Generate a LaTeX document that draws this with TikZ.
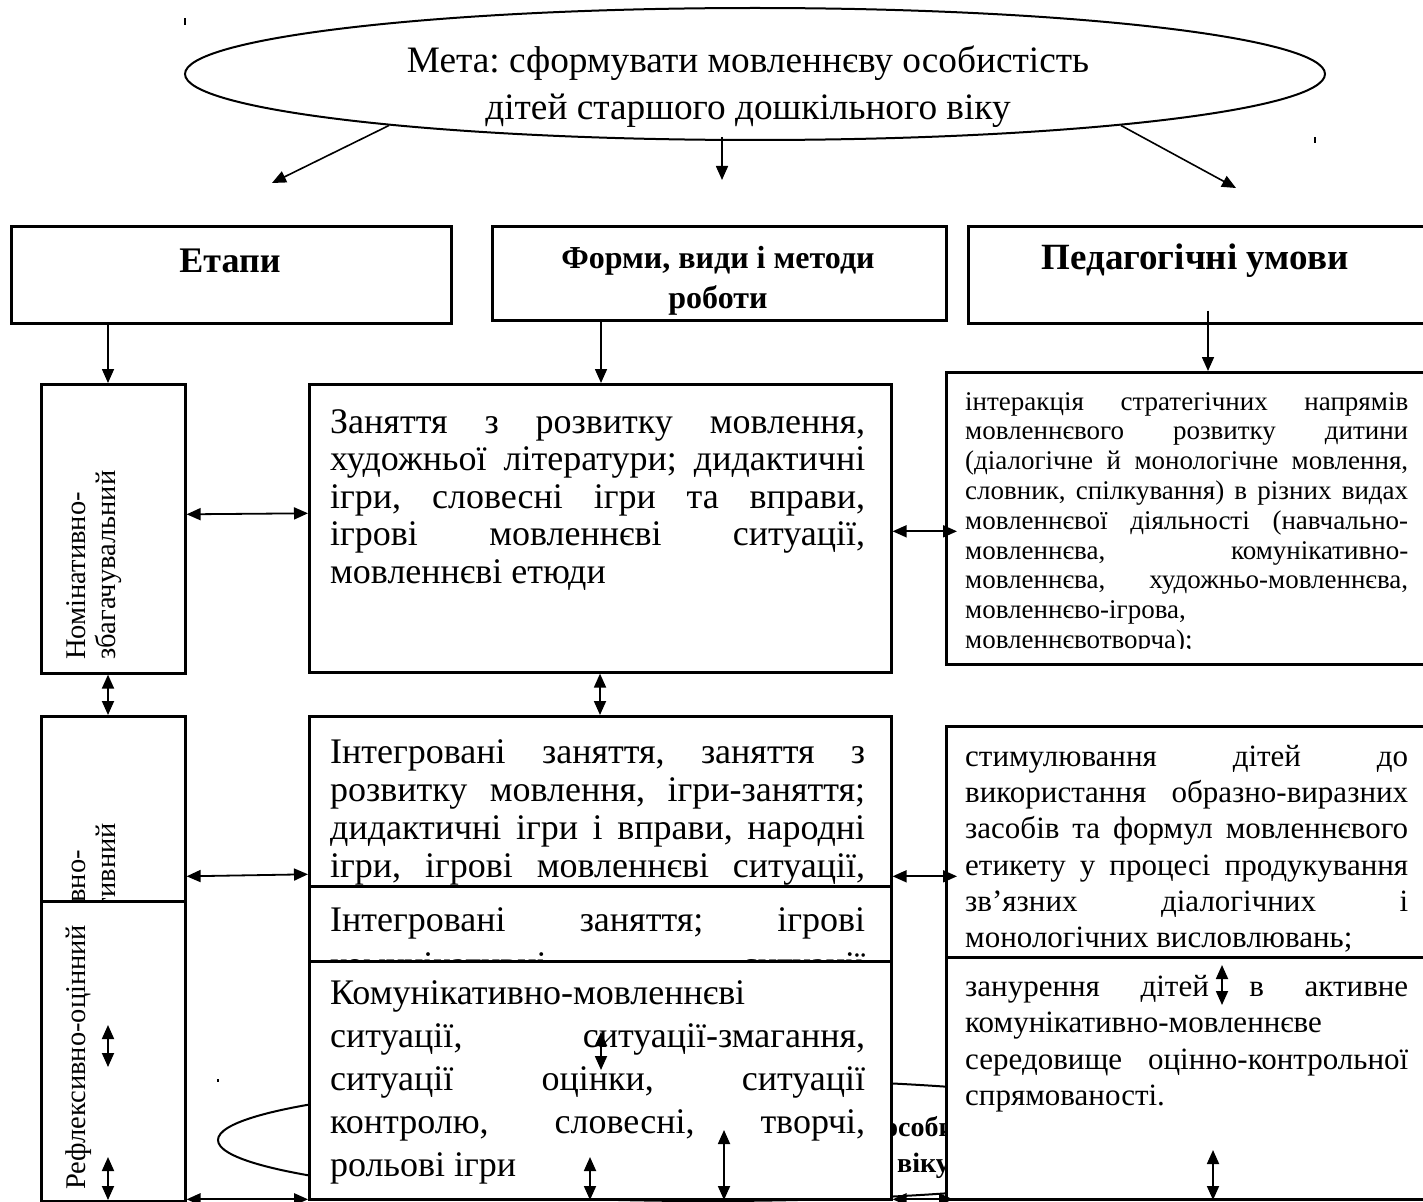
\documentclass[tikz,border=0pt]{standalone}
\usepackage{fontspec}
\setmainfont{Liberation Serif}
\usetikzlibrary{arrows.meta, positioning, shapes.geometric}
\frenchspacing

\newcommand{\jline}[1]{{\spaceskip=0pt \xspaceskip=0pt \makebox[\hsize][s]{#1}}}
\newcommand{\fs}[2]{\fontsize{#1}{#2}\selectfont}

\begin{document}
\begin{tikzpicture}[x=1pt, y=-1pt]
	\tikzset{>={Triangle[length=14pt, width=12pt]},
		frame/.style={draw, line width=2.6pt, fill=white, inner sep=0pt, anchor=north west},
		oval/.style={draw, ellipse, line width=2pt, inner sep=0pt},
		para/.style={inner sep=0pt, anchor=north west, align=justify, execute at begin node={\parindent=0pt}},
		head/.style={inner sep=0pt, align=center},
		stage/.style={rotate=90, inner sep=0pt, align=left, font=\fs{28.5}{30}},
		link/.style={->, line width=1.6pt},
		both/.style={<->, line width=1.8pt}}

	\useasboundingbox (0,0) rectangle (1423,1201);
	\clip (0,0) rectangle (1423,1201);

	% goal
	\node[oval, minimum width=1140pt, minimum height=132pt] (goal) at (755,74) {};
	\node[head, font=\fs{37.3}{47}] (goaltext) at (748,87) {Мета: сформувати мовленнєву особистість\\дітей старшого дошкільного віку};
	\coordinate (g1) at (272,183);
	\coordinate (g2) at (722,180);
	\coordinate (g3) at (1236,188);

	% headings
	\node[frame, minimum width=440pt, minimum height=97pt] (stages) at (10,225) {};
	\node[head, font=\bfseries\fs{36}{40}] (stagestext) at (230,261) {Етапи};
	\node[frame, minimum width=454pt, minimum height=94pt] (forms) at (491,225) {};
	\node[head, font=\bfseries\fs{32}{40}] (formstext) at (718,281) {Форми, види і методи\\роботи};
	\node[frame, minimum width=480pt, minimum height=97pt] (conds) at (967,225) {};
	\node[head, font=\bfseries\fs{37}{40}] (condstext) at (1195,261) {Педагогічні умови};

	% stages column
	\node[frame, minimum width=144pt, minimum height=289pt] (stage1) at (40,383) {};
	\node[stage, anchor=north west] (stage1text) at (66,660) {Номінативно-\\збагачувальний};
	\node[frame, minimum width=144pt, minimum height=185pt] (stage2) at (40,715) {};
	\node[stage, anchor=base east] (stage2a) at (85,850) {вно-};
	\node[stage, anchor=base east] (stage2b) at (115,823) {тивний};
	\node[frame, minimum width=144pt, minimum height=300pt] (stage3) at (40,900) {};
	\node[stage, anchor=base west] (stage3text) at (85,1190) {Рефлексивно-оцінний};

	% hidden oval behind the lower boxes
	\node[oval, minimum width=980pt, minimum height=122pt] (echo) at (708,1140) {};
	\node[inner sep=0pt, anchor=base west, font=\bfseries\fs{28}{34}] (echoa) at (884,1136) {особистості};
	\node[inner sep=0pt, anchor=base west, font=\bfseries\fs{28}{34}] (echob) at (897,1172) {віку};

	% forms column
	\node[frame, minimum width=582pt, minimum height=288pt] (m1) at (308,383) {};
	\node[para, text width=535pt, font=\fs{36}{37.5}] (m1text) at (330,409) {%
		\jline{Заняття з розвитку мовлення,}\\
		\jline{художньої літератури; дидактичні}\\
		\jline{ігри, словесні ігри та вправи,}\\
		\jline{ігрові мовленнєві ситуації,}\\
		мовленнєві етюди};
	\node[frame, minimum width=582pt, minimum height=200pt] (m2) at (308,715) {};
	\node[para, text width=535pt, font=\fs{36}{38}] (m2text) at (330,739) {%
		\jline{Інтегровані заняття, заняття з}\\
		\jline{розвитку мовлення, ігри-заняття;}\\
		\jline{дидактичні ігри і вправи, народні}\\
		\jline{ігри, ігрові мовленнєві ситуації,}};
	\node[frame, minimum width=582pt, minimum height=100pt] (m3) at (308,885) {};
	\node[para, text width=535pt, font=\fs{36}{45}] (m3text) at (330,907) {%
		\jline{Інтегровані заняття; ігрові}\\
		\jline{комунікативні ситуації}};
	\node[frame, minimum width=582pt, minimum height=238pt] (m4) at (308,960) {};
	\node[para, text width=535pt, font=\fs{36}{43}] (m4text) at (330,980) {%
		Комунікативно-мовленнєві\\
		\jline{ситуації, ситуації-змагання,}\\
		\jline{ситуації оцінки, ситуації}\\
		\jline{контролю, словесні, творчі,}\\
		рольові ігри};

	% conditions column
	\node[frame, minimum width=500pt, minimum height=292pt] (r1) at (945,371) {};
	\begin{scope}
		\clip (945,371) rectangle (1423,648);
		\node[para, text width=443pt, font=\fs{27}{29.8}] (r1text) at (965,392) {%
			\jline{інтеракція стратегічних напрямів}\\
			\jline{мовленнєвого розвитку дитини}\\
			\jline{(діалогічне й монологічне мовлення,}\\
			\jline{словник, спілкування) в різних видах}\\
			\jline{мовленнєвої діяльності (навчально-}\\
			\jline{мовленнєва, комунікативно-}\\
			\jline{мовленнєва, художньо-мовленнєва,}\\
			мовленнєво-ігрова,\\
			мовленнєвотворча);};
	\end{scope}
	\node[frame, minimum width=500pt, minimum height=231pt] (r2) at (945,725) {};
	\node[para, text width=443pt, font=\fs{31}{36.2}] (r2text) at (965,745) {%
		\jline{стимулювання дітей до}\\
		\jline{використання образно-виразних}\\
		\jline{засобів та формул мовленнєвого}\\
		\jline{етикету у процесі продукування}\\
		\jline{зв’язних діалогічних і}\\
		монологічних висловлювань;};
	\node[frame, minimum width=500pt, minimum height=242pt] (r3) at (945,956) {};
	\node[para, text width=443pt, font=\fs{31}{36.5}] (r3text) at (965,975) {%
		\jline{занурення дітей в активне}\\
		комунікативно-мовленнєве\\
		\jline{середовище оцінно-контрольної}\\
		спрямованості.};

	% arrows from the goal
	\draw[link] (goal.188.8) -- (g1);
	\draw[link] ([yshift=4pt]goal.south -| g2) -- (g2);
	\draw[link] (goal.352.4) -- (g3);

	% arrows from the headings
	\draw[link] ([xshift=98pt]stages.south west) -- ([xshift=68pt]stage1.north west);
	\draw[link] ([xshift=110pt]forms.south west) -- ([xshift=293pt]m1.north west);
	\draw[link] ([xshift=241pt, yshift=14pt]conds.south west) -- ([xshift=263pt]r1.north west);

	% links between the columns
	\draw[both] ([xshift=68pt]stage1.south west) -- ([xshift=68pt]stage2.north west);
	\draw[both] ([xshift=292pt]m1.south west) -- ([xshift=292pt]m2.north west);
	\draw[both] ([yshift=14.5pt]stage1.east) -- ([yshift=15pt]m1.west);
	\draw[both] ([yshift=-3pt]m1.east) -- ([xshift=12pt, yshift=-13pt]r1.west);
	\draw[both] ([yshift=-67.5pt]stage2.east) -- ([yshift=-58pt]m2.west);
	\draw[both] ([yshift=-60pt]m2.east) -- ([xshift=12pt, yshift=-34.5pt]r2.west);
	\draw[both] ([yshift=-148pt]stage3.east) -- ([yshift=-119pt]m4.west);
	\draw[both] ([yshift=-119pt]m4.east) -- ([xshift=8pt, yshift=-121pt]r3.west);

	% small arrows inside the lower boxes
	\draw[both] ([shift={(68,125)}]stage3.north west) -- ([shift={(68,167)}]stage3.north west);
	\draw[both] ([shift={(68,257)}]stage3.north west) -- ([shift={(68,300)}]stage3.north west);
	\draw[both] ([shift={(293,72)}]m4.north west) -- ([shift={(293,110)}]m4.north west);
	\draw[both] ([shift={(282,197)}]m4.north west) -- ([shift={(282,240)}]m4.north west);
	\draw[both] ([shift={(416,170)}]m4.north west) -- ([shift={(416,240)}]m4.north west);
	\draw[both] ([shift={(277,9)}]r3.north west) -- ([shift={(277,49)}]r3.north west);
	\draw[both] ([shift={(268,194)}]r3.north west) -- ([shift={(268,244)}]r3.north west);

	% stray marks
	\fill (184,18) rectangle (186,25);
	\fill (1314,137) rectangle (1316,143);
	\fill (217,1079) rectangle (219,1082);
\end{tikzpicture}
\end{document}
